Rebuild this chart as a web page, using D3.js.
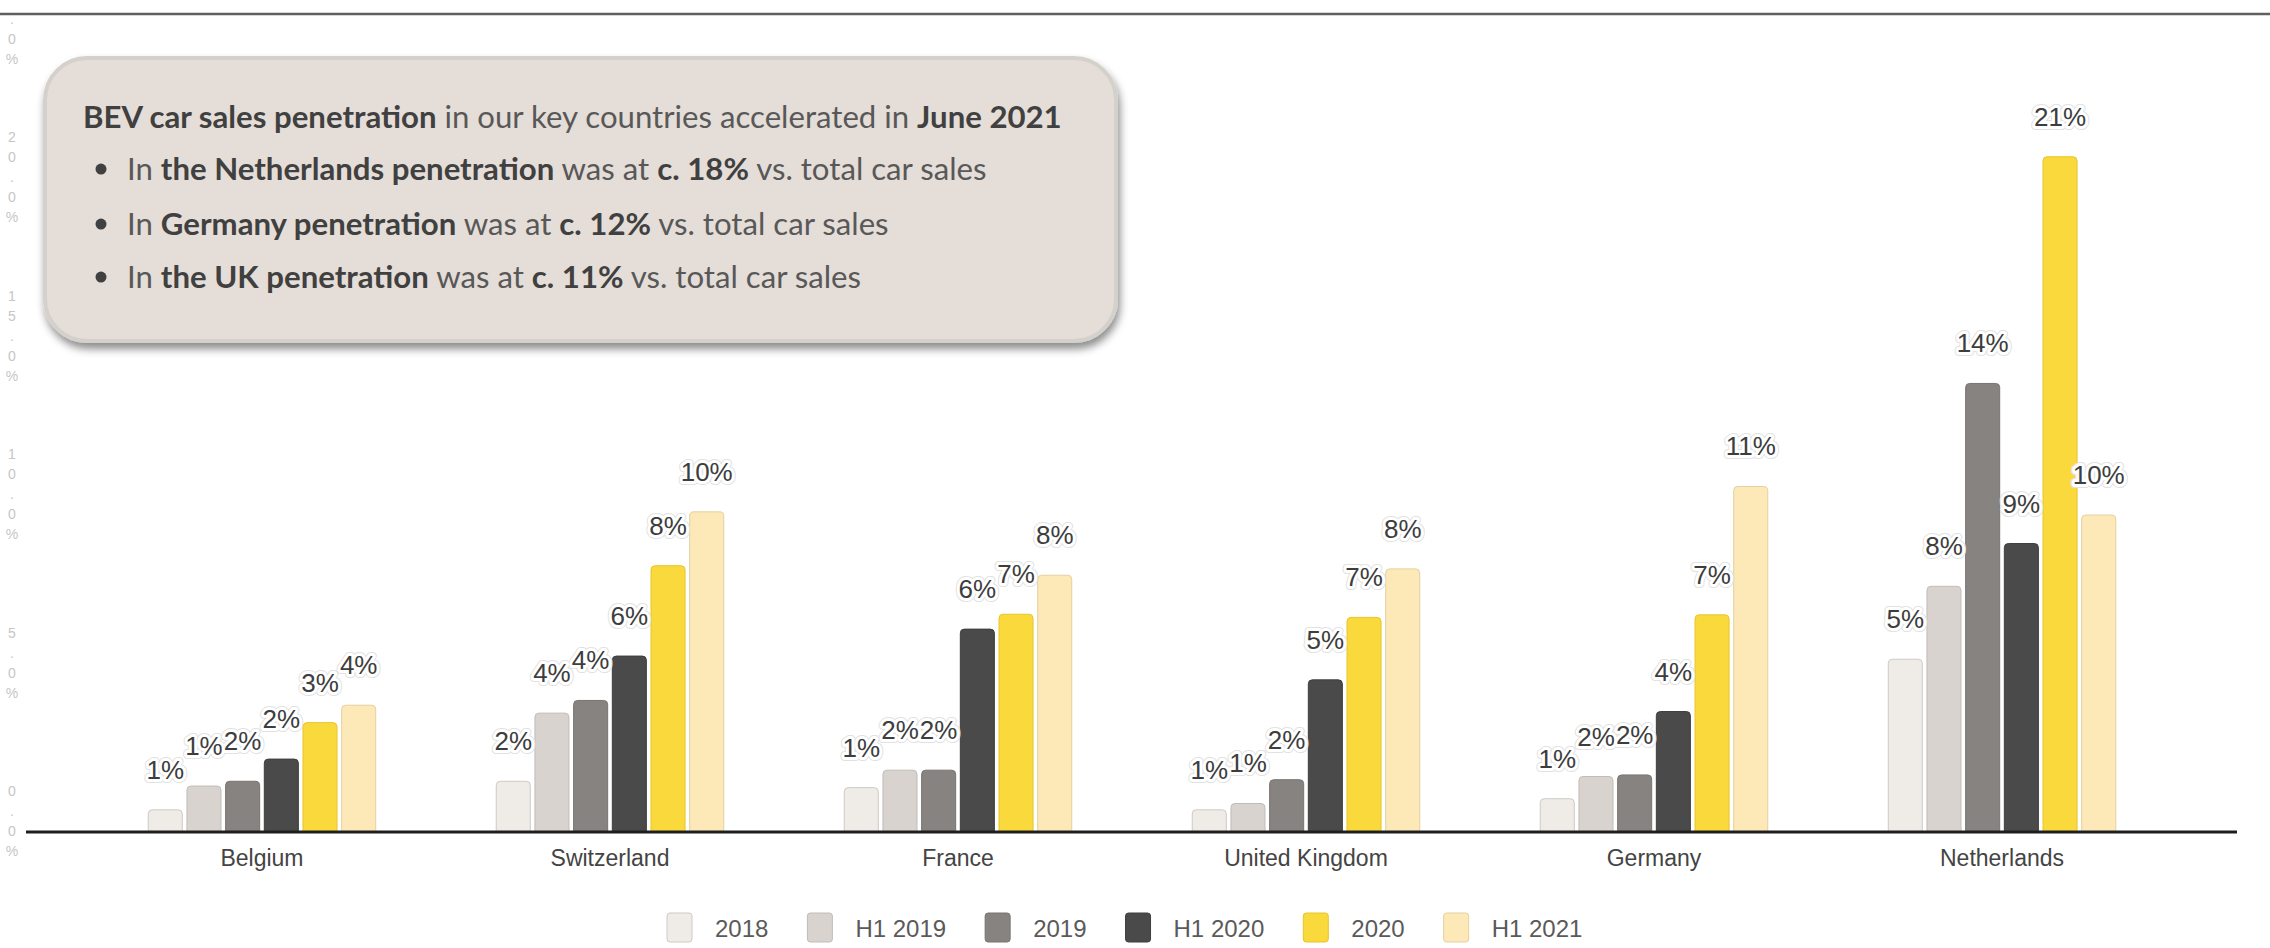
<!DOCTYPE html>
<html>
<head>
<meta charset="utf-8">
<script src="https://cdn.jsdelivr.net/npm/d3@7"></script>
<style>
  html, body { margin: 0; padding: 0; background: #ffffff; }
  svg { display: block; }
</style>
</head>
<body>
<svg id="chart" width="2270" height="948"></svg>
<script>
// ---------------- DATA ----------------
const categories = ["Belgium", "Switzerland", "France", "United Kingdom", "Germany", "Netherlands"];
const seriesNames = ["2018", "H1 2019", "2019", "H1 2020", "2020", "H1 2021"];
const values2018   = [0.7, 1.6, 1.4, 0.7, 1.05, 5.45];
const valuesH12019 = [1.45, 3.75, 1.95, 0.9, 1.75, 7.75];
const values2019   = [1.6, 4.15, 1.95, 1.65, 1.8, 14.15];
const valuesH12020 = [2.3, 5.55, 6.4, 4.8, 3.8, 9.1];
const values2020   = [3.45, 8.4, 6.87, 6.77, 6.85, 21.3];
const valuesH12021 = [4.0, 10.1, 8.1, 8.3, 10.9, 10.0];
const yTicks = [0, 5, 10, 15, 20, 25];
const seriesColors = ["#efebe7", "#d8d3cf", "#878380", "#4a4a4a", "#f9d93b", "#fde9b8"];
const seriesStrokes = ["#cfc9c3", "#c2bcb6", "#787470", "#3e3e3e", "#e8c52a", "#e3d0a0"];

const calloutTitle = [
  {t: "BEV car sales penetration", b: true},
  {t: " in our key countries accelerated in ", b: false},
  {t: "June 2021", b: true}
];
const calloutBullets = [
  [{t: "In ", b: false}, {t: "the Netherlands penetration", b: true}, {t: " was at ", b: false}, {t: "c. 18%", b: true}, {t: " vs. total car sales", b: false}],
  [{t: "In ", b: false}, {t: "Germany penetration", b: true}, {t: " was at ", b: false}, {t: "c. 12%", b: true}, {t: " vs. total car sales", b: false}],
  [{t: "In ", b: false}, {t: "the UK penetration", b: true}, {t: " was at ", b: false}, {t: "c. 11%", b: true}, {t: " vs. total car sales", b: false}]
];

const seriesValues = [values2018, valuesH12019, values2019, valuesH12020, values2020, valuesH12021];
const rows = [];
categories.forEach((c, ci) => {
  seriesNames.forEach((s, si) => {
    rows.push({cat: c, series: s, si: si, value: seriesValues[si][ci]});
  });
});

// ---------------- SCALES ----------------
const svg = d3.select("#chart");
const baseY = 832;
const y = d3.scaleLinear().domain([0, 25]).range([baseY, baseY - 25 * 31.7]);
const x0 = d3.scaleBand().domain(categories).range([88, 2176]).paddingInner(0.3463).paddingOuter(0.1731);
const x1 = d3.scaleBand().domain(seriesNames).range([0, x0.bandwidth()]).paddingInner(0.12);
const color = d3.scaleOrdinal().domain(seriesNames).range(seriesColors);
const strokeC = d3.scaleOrdinal().domain(seriesNames).range(seriesStrokes);

// top decorative line
svg.append("line").attr("x1", 0).attr("x2", 2270).attr("y1", 14).attr("y2", 14)
  .attr("stroke", "#5f5f5f").attr("stroke-width", 2.5);

// ---------------- Y AXIS LABELS (faint, stacked characters) ----------------
const fmt = d3.format(".1%");
const yLab = svg.append("g").attr("class", "y-labels");
yTicks.forEach(v => {
  const s = fmt(v / 100);
  const chars = s.split("");
  const n = chars.length;
  const t = yLab.append("text")
    .attr("font-family", "Liberation Sans, Arial, sans-serif")
    .attr("font-size", 14)
    .attr("fill", "#c6c6c6")
    .attr("text-anchor", "middle");
  chars.forEach((ch, i) => {
    const cy = y(v) + 24 - (n - 1 - i) * 20;
    if (cy < 16) return; // characters above the page edge are not visible
    t.append("tspan").attr("x", 12).attr("y", cy).text(ch);
  });
});

// ---------------- BARS ----------------
function topRoundedRect(x, yTop, w, h, r) {
  r = Math.min(r, h, w / 2);
  return `M${x},${yTop + h} L${x},${yTop + r} Q${x},${yTop} ${x + r},${yTop} L${x + w - r},${yTop} Q${x + w},${yTop} ${x + w},${yTop + r} L${x + w},${yTop + h} Z`;
}

const bars = svg.append("g").attr("class", "bars");
bars.selectAll("path").data(rows).join("path")
  .attr("d", d => {
    const bx = x0(d.cat) + x1(d.series);
    return topRoundedRect(bx, y(d.value), x1.bandwidth(), baseY - y(d.value), 4);
  })
  .attr("fill", d => color(d.series))
  .attr("stroke", d => strokeC(d.series))
  .attr("stroke-width", 1);

// baseline
svg.append("line").attr("x1", 26).attr("x2", 2237).attr("y1", baseY).attr("y2", baseY)
  .attr("stroke", "#1e1e1e").attr("stroke-width", 3);

// value labels (white halo with faint grey rim)
const pct = d3.format(".0f");
const labels = svg.append("g").attr("class", "value-labels");
const lblX = d => x0(d.cat) + x1(d.series) + x1.bandwidth() / 2;
const lblY = d => y(d.value) - 31;
labels.selectAll("text.rim").data(rows).join("text")
  .attr("class", "rim")
  .attr("x", lblX).attr("y", lblY)
  .attr("text-anchor", "middle")
  .attr("font-family", "Liberation Sans, Arial, sans-serif")
  .attr("font-size", 26)
  .attr("fill", "none")
  .attr("stroke", "#e2e2e2")
  .attr("stroke-width", 8)
  .attr("stroke-linejoin", "round")
  .text(d => pct(d.value) + "%");
labels.selectAll("text.lbl").data(rows).join("text")
  .attr("class", "lbl")
  .attr("x", lblX).attr("y", lblY)
  .attr("text-anchor", "middle")
  .attr("font-family", "Liberation Sans, Arial, sans-serif")
  .attr("font-size", 26)
  .attr("fill", "#3d3d3d")
  .attr("stroke", "#ffffff")
  .attr("stroke-width", 6)
  .attr("stroke-linejoin", "round")
  .attr("paint-order", "stroke")
  .text(d => pct(d.value) + "%");

// category axis labels
const xAxis = d3.axisBottom(x0).tickSize(0).tickPadding(0);
const xg = svg.append("g").attr("transform", `translate(0,${baseY})`).call(xAxis);
xg.select(".domain").remove();
xg.selectAll("text")
  .attr("y", 34)
  .attr("dy", 0)
  .attr("font-family", "Liberation Sans, Arial, sans-serif")
  .attr("font-size", 23)
  .attr("fill", "#444444");

// ---------------- LEGEND ----------------
const legend = svg.append("g").attr("class", "legend");
let lx = 667;
seriesNames.forEach((s, i) => {
  const g = legend.append("g");
  g.append("rect").attr("x", lx).attr("y", 913).attr("width", 25).attr("height", 29).attr("rx", 3)
    .attr("fill", color(s)).attr("stroke", strokeC(s)).attr("stroke-width", 1);
  const t = g.append("text").attr("x", lx + 48).attr("y", 937)
    .attr("font-family", "Liberation Sans, Arial, sans-serif")
    .attr("font-size", 24).attr("fill", "#5a5a5a").text(s);
  const w = t.node().getComputedTextLength();
  lx = lx + 48 + w + 39;
});

// ---------------- CALLOUT BOX ----------------
const defs = svg.append("defs");
const f = defs.append("filter").attr("id", "shadow").attr("x", "-10%").attr("y", "-10%").attr("width", "120%").attr("height", "130%");
f.append("feDropShadow").attr("dx", 2).attr("dy", 6).attr("stdDeviation", 4)
  .attr("flood-color", "#000000").attr("flood-opacity", 0.45);

const box = svg.append("g").attr("class", "callout");
box.append("rect").attr("x", 45).attr("y", 58).attr("width", 1071).attr("height", 283).attr("rx", 42)
  .attr("fill", "#e5ddd7").attr("stroke", "#d4d0cc").attr("stroke-width", 4)
  .attr("filter", "url(#shadow)");

function richLine(parent, xPos, yPos, parts, size) {
  const t = parent.append("text").attr("x", xPos).attr("y", yPos)
    .attr("font-family", "Lato, 'Open Sans', sans-serif")
    .attr("font-size", size);
  parts.forEach(p => {
    t.append("tspan").text(p.t)
      .attr("font-weight", p.b ? 700 : 400)
      .attr("fill", p.b ? "#404040" : "#585858")
      .style("white-space", "pre");
  });
  t.attr("xml:space", "preserve");
  return t;
}

const title = richLine(box, 83, 128, calloutTitle, 26);
const tw = title.node().getComputedTextLength();
const fs = 26 * 979 / tw;
title.attr("font-size", fs);

const bulletYs = [180, 235, 288];
calloutBullets.forEach((parts, i) => {
  box.append("circle").attr("cx", 101).attr("cy", bulletYs[i] - fs * 0.35).attr("r", 5.5).attr("fill", "#404040");
  richLine(box, 127, bulletYs[i], parts, fs);
});
</script>
</body>
</html>
